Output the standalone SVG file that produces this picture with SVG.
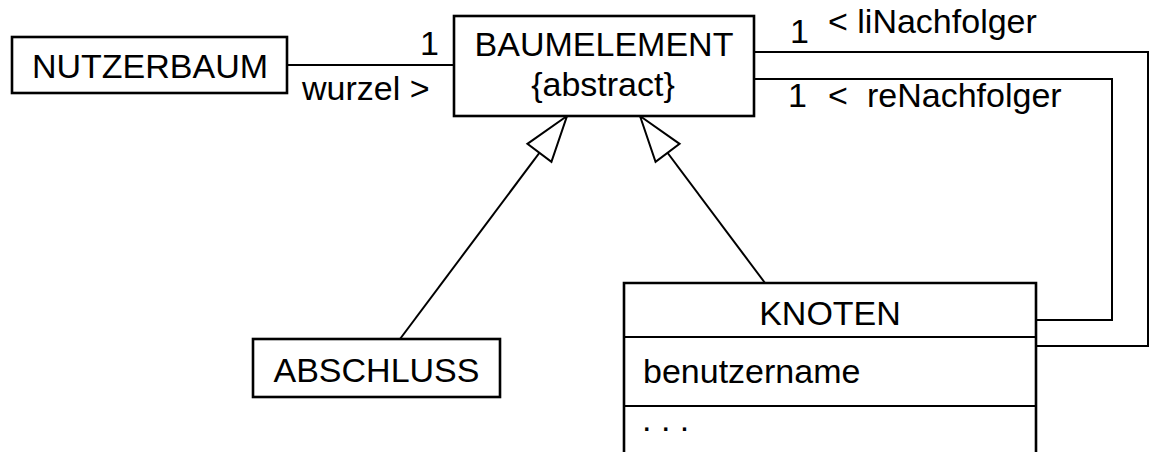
<svg xmlns="http://www.w3.org/2000/svg" width="1151" height="452" viewBox="0 0 1151 452">
<style>
text{font-family:"Liberation Sans",Arial,sans-serif;font-size:34px;fill:#000}
.box{fill:#fff;stroke:#000;stroke-width:2.6}
.ln{fill:none;stroke:#000;stroke-width:2}
.mid{text-anchor:middle}
</style>
<defs>
<marker id="gen" markerUnits="userSpaceOnUse" markerWidth="50" markerHeight="34" refX="47" refY="16" orient="auto" overflow="visible">
<path d="M47,16 L1,1 L1,31 Z" fill="#fff" stroke="#000" stroke-width="2"/>
</marker>
</defs>
<g id="connectors">
<line class="ln" x1="287" y1="65" x2="454" y2="65"/>
<polyline class="ln" points="754,52 1148,52 1148,346 1036,346"/>
<polyline class="ln" points="754,79 1112,79 1112,320 1036,320"/>
<line class="ln" x1="400" y1="339" x2="567" y2="116" marker-end="url(#gen)"/>
<line class="ln" x1="765" y1="283" x2="640" y2="116" marker-end="url(#gen)"/>
<text x="439" y="55" text-anchor="end">1</text>
<text x="302" y="100">wurzel &gt;</text>
<text x="790" y="43">1</text>
<text x="828" y="33">&lt; liNachfolger</text>
<text x="788" y="107">1</text>
<text x="828" y="107">&lt;</text>
<text x="867" y="107">reNachfolger</text>
</g>
<g id="nutzerbaum">
<rect class="box" x="12" y="37" width="275" height="56"/>
<text class="mid" x="150" y="78">NUTZERBAUM</text>
</g>
<g id="baumelement">
<rect class="box" x="454" y="16" width="300" height="100"/>
<text class="mid" x="604" y="56">BAUMELEMENT</text>
<text class="mid" x="603" y="96">{abstract}</text>
</g>
<g id="abschluss">
<rect class="box" x="253" y="339" width="247" height="58"/>
<text class="mid" x="376.5" y="382">ABSCHLUSS</text>
</g>
<g id="knoten">
<path class="box" d="M624,460 L624,283 L1036,283 L1036,460"/>
<line class="ln" x1="624" y1="337" x2="1036" y2="337" stroke-width="2.6"/>
<line class="ln" x1="624" y1="406" x2="1036" y2="406" stroke-width="2.6"/>
<text class="mid" x="830" y="325">KNOTEN</text>
<text x="643" y="383">benutzername</text>
<text x="642" y="431">. . .</text>
</g>
</svg>
